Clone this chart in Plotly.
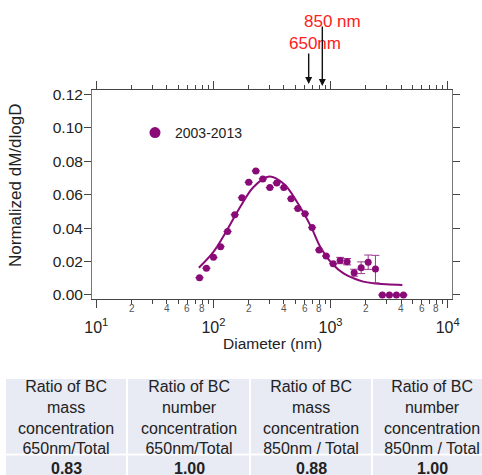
import math
import plotly.graph_objects as go

# Measured BC mass size distribution, 2003-2013 average
diameter_nm = [76, 87, 100, 115, 132, 152, 175, 200, 230, 264, 303, 347, 399, 460, 525,
               605, 695, 798, 916, 1052, 1206, 1384, 1589, 1824, 2094, 2416, 2767, 3177, 3648, 4188]
dm_dlogd = [0.0103, 0.0160, 0.0225, 0.0289, 0.0379, 0.0480, 0.0582, 0.0674, 0.0742, 0.0694,
            0.0642, 0.0670, 0.0642, 0.0576, 0.0517, 0.0486, 0.0403, 0.0269, 0.0233, 0.0187,
            0.0206, 0.0199, 0.0133, 0.0163, 0.0196, 0.0155, 0.0, 0.0, 0.0, 0.0]
dm_err = [None] * 20 + [0.0019, 0.0019, 0.0021, 0.0035, 0.0043, 0.0082] + [None] * 4

# Lognormal fit to the distribution
fit_d_nm = [75, 100, 130, 170, 220, 300, 400, 520, 680, 815, 1057, 1290, 1570, 1900, 2320, 3000, 4100]
fit_y = [0.0163, 0.0258, 0.0386, 0.0529, 0.0646, 0.0708, 0.0663, 0.0553, 0.0409, 0.0289,
         0.0179, 0.0129, 0.0100, 0.0080, 0.0070, 0.0064, 0.0060]

series_name = "2003-2013"
cutoff_nm = [650, 850]
cutoff_labels = ["650nm", "850 nm"]

x_major = [10, 100, 1000, 10000]
x_major_text = ["10<sup>1</sup>", "10<sup>2</sup>", "10<sup>3</sup>", "10<sup>4</sup>"]
x_minor = [m * 10 ** k for k in (1, 2, 3) for m in range(2, 10)]
x_minor_labelled = [m * 10 ** k for k in (1, 2, 3) for m in (2, 4, 6, 8)]
y_ticks = [0.00, 0.02, 0.04, 0.06, 0.08, 0.10, 0.12]

table_header = [
    "Ratio of BC<br>mass<br>concentration<br>650nm/Total",
    "Ratio of BC<br>number<br>concentration<br>650nm/Total",
    "Ratio of BC<br>mass<br>concentration<br>850nm / Total",
    "Ratio of BC<br>number<br>concentration<br>850nm / Total",
]
table_values = ["0.83", "1.00", "0.88", "1.00"]

W, H = 482, 475
FONT = "Liberation Sans, Arial, sans-serif"
PURPLE = "#8a0a78"
AXIS = "#444444"


def px_x(p):
    return p / W


def px_y(p):
    return 1 - p / H


fig = go.Figure()

fig.add_trace(go.Scatter(
    x=fit_d_nm, y=fit_y, mode="lines", line=dict(color=PURPLE, width=2, shape="spline", smoothing=1.0),
    showlegend=False, hoverinfo="skip",
))
fig.add_trace(go.Scatter(
    x=diameter_nm, y=dm_dlogd, mode="markers",
    marker=dict(color=PURPLE, size=7),
    error_y=dict(type="data", array=dm_err, visible=True, color="#9c3d90", thickness=1, width=4),
    showlegend=False,
))
# legend entry
fig.add_trace(go.Scatter(
    x=[None], y=[None], mode="markers", marker=dict(color=PURPLE, size=11), name=series_name,
))

annotations = []

# minor tick numbers 2,4,6,8 under the bottom axis
for v in x_minor_labelled:
    annotations.append(dict(
        x=math.log10(v), xref="x", y=px_y(308), yref="paper", xanchor="center", yanchor="middle",
        text=str(int(v / 10 ** math.floor(math.log10(v)))), showarrow=False,
        font=dict(size=10, color="#555555", family=FONT),
    ))

# axis titles
annotations.append(dict(
    x=px_x(272), y=px_y(343), xref="paper", yref="paper", text="Diameter (nm)", showarrow=False,
    font=dict(size=15.5, color="#222222", family=FONT), xanchor="center", yanchor="middle",
))
annotations.append(dict(
    x=px_x(15), y=px_y(186), xref="paper", yref="paper", text="Normalized dM/dlogD", showarrow=False,
    textangle=-90, font=dict(size=17, color="#222222", family=FONT), xanchor="center",
    yanchor="middle",
))

# cutoff arrows and labels above the plot
arrow_head_px = [84, 86]
arrow_tail_px = [52, 25]
label_center_px = [43.5, 22]
label_shift = [6, 10]
for d, lab, hy, ty, ly, sh in zip(cutoff_nm, cutoff_labels, arrow_head_px, arrow_tail_px,
                                  label_center_px, label_shift):
    annotations.append(dict(
        x=math.log10(d), xref="x", y=px_y(hy), yref="paper", text="", showarrow=True,
        ax=0, ay=ty - hy, arrowhead=2, arrowsize=1, arrowwidth=1.4, arrowcolor="#111111",
    ))
    annotations.append(dict(
        x=math.log10(d), xref="x", y=px_y(ly), yref="paper", text=lab, showarrow=False,
        xshift=sh, xanchor="center", yanchor="middle",
        font=dict(size=17, color="#ff2020", family=FONT),
    ))

# table of cutoff ratios
col_edges = [(6, 126), (128, 249), (251, 371), (373, 495)]
text_centers = [66.3, 189, 311.2, 432.3]
shapes = []
for (x0, x1), head, val, cx in zip(col_edges, table_header, table_values, text_centers):
    shapes.append(dict(type="rect", xref="paper", yref="paper", x0=px_x(x0), x1=px_x(x1),
                       y0=px_y(453.5), y1=px_y(379), fillcolor="#e8eaf4", line=dict(width=0),
                       layer="below"))
    shapes.append(dict(type="rect", xref="paper", yref="paper", x0=px_x(x0), x1=px_x(x1),
                       y0=px_y(495), y1=px_y(455.5), fillcolor="#e8eaf4", line=dict(width=0),
                       layer="below"))
    annotations.append(dict(
        x=px_x(cx), y=px_y(417), xref="paper", yref="paper", text=head, showarrow=False,
        xanchor="center", yanchor="middle", align="center",
        font=dict(size=16, color="#222222", family=FONT),
    ))
    annotations.append(dict(
        x=px_x(cx), y=px_y(468), xref="paper", yref="paper", text="<b>" + val + "</b>", showarrow=False,
        xanchor="center", yanchor="middle", font=dict(size=16, color="#222222", family=FONT),
    ))

fig.update_layout(
    width=W, height=H, margin=dict(l=0, r=0, t=0, b=0),
    paper_bgcolor="white", plot_bgcolor="white",
    font=dict(family=FONT, color="#222222"),
    xaxis=dict(
        type="log", range=[0.963, 4.034], domain=[px_x(92), px_x(451.7)],
        tickmode="array", tickvals=x_major, ticktext=x_major_text,
        ticks="outside", ticklen=8, tickwidth=1, tickcolor=AXIS,
        minor=dict(tickmode="array", tickvals=x_minor, ticks="outside", ticklen=4, tickcolor=AXIS),
        showline=True, linecolor=AXIS, linewidth=1, mirror="ticks",
        showgrid=False, zeroline=False, ticklabelstandoff=6,
        tickfont=dict(size=16, color="#222222", family=FONT), automargin=False,
    ),
    yaxis=dict(
        range=[-0.0024, 0.12257], domain=[px_y(299), px_y(90)],
        tickmode="array", tickvals=y_ticks, ticktext=["%.2f" % v for v in y_ticks],
        ticks="outside", ticklen=7, tickwidth=1, tickcolor=AXIS,
        showline=True, linecolor="#777777", linewidth=1, mirror="ticks",
        showgrid=False, zeroline=False, ticklabelstandoff=-2,
        tickfont=dict(size=15.5, color="#222222", family=FONT), automargin=False,
    ),
    legend=dict(x=px_x(135), y=px_y(133), xanchor="left", yanchor="middle",
                bgcolor="rgba(0,0,0,0)", font=dict(size=14, color="#222222", family=FONT)),
    annotations=annotations, shapes=shapes,
)

fig.write_html("out.html")
